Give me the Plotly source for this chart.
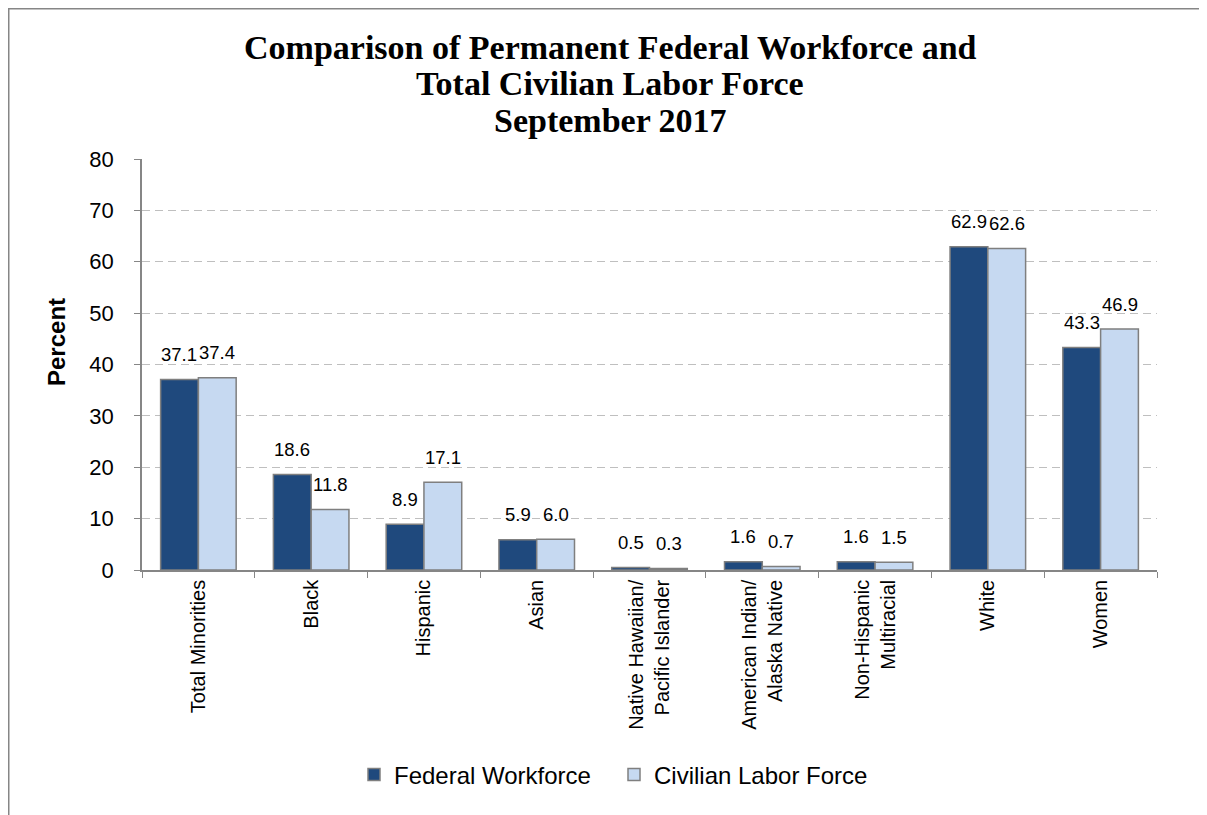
import plotly.graph_objects as go

categories = ["Total Minorities", "Black", "Hispanic", "Asian",
              "Native Hawaiian/<br>Pacific Islander", "American Indian/<br>Alaska Native",
              "Non-Hispanic<br>Multiracial", "White", "Women"]
federal = [37.1, 18.6, 8.9, 5.9, 0.5, 1.6, 1.6, 62.9, 43.3]
civilian = [37.4, 11.8, 17.1, 6.0, 0.3, 0.7, 1.5, 62.6, 46.9]
y_ticks = [0, 10, 20, 30, 40, 50, 60, 70, 80]
title_lines = ["Comparison of Permanent Federal Workforce and",
               "Total Civilian Labor Force",
               "September 2017"]

# page has an 8px body margin; figure is drawn in page coordinates minus this offset
OFF = 8
W = 1207 - OFF
H = 815 - OFF
L = 142 - OFF
T = 159 - OFF
R = W - (1157 - OFF)
B = H - (570 - OFF)
pw, ph = W - L - R, H - T - B

def px_x(p):
    return (p - OFF - L) / pw

def px_y(p):
    return (570 - p) / ph

FONT = "Liberation Sans"
GRAY = "#868686"

fig = go.Figure()
fig.add_trace(go.Bar(name="Federal Workforce", x=categories, y=federal,
                     marker=dict(color="#1F497D", line=dict(color="#7F7F7F", width=1.5))))
fig.add_trace(go.Bar(name="Civilian Labor Force", x=categories, y=civilian,
                     marker=dict(color="#C6D9F1", line=dict(color="#7F7F7F", width=1.5))))

annotations = []
for c, v in zip(categories, federal):
    annotations.append(dict(x=c, y=v, xref="x", yref="y", text=f"{v:.1f}", showarrow=False,
                            xshift=-19, yshift=25, yanchor="middle",
                            font=dict(family=FONT, size=18.5, color="#000")))
for c, v in zip(categories, civilian):
    annotations.append(dict(x=c, y=v, xref="x", yref="y", text=f"{v:.1f}", showarrow=False,
                            xshift=19, yshift=25, yanchor="middle",
                            font=dict(family=FONT, size=18.5, color="#000")))

for line, ypx in zip(title_lines, [47, 84, 121]):
    annotations.append(dict(x=px_x(610), y=px_y(ypx), xref="paper", yref="paper",
                            text=f"<b>{line}</b>", showarrow=False,
                            xanchor="center", yanchor="middle",
                            font=dict(family="Liberation Serif", size=34, color="#000")))

# y-axis title
annotations.append(dict(x=px_x(56), y=px_y(342), xref="paper", yref="paper",
                        text="<b>Percent</b>", showarrow=False, textangle=-90,
                        xanchor="center", yanchor="middle",
                        font=dict(family=FONT, size=24, color="#000")))

shapes = [
    dict(type="line", xref="paper", yref="paper", x0=px_x(OFF + 0.75), x1=px_x(OFF + 0.75),
         y0=px_y(OFF), y1=px_y(815 + 20), line=dict(color=GRAY, width=1.5)),
    dict(type="line", xref="paper", yref="paper", x0=px_x(OFF), x1=px_x(1207 + 20),
         y0=px_y(OFF + 0.75), y1=px_y(OFF + 0.75), line=dict(color=GRAY, width=1.5)),
]

fig.update_layout(
    width=W, height=H,
    margin=dict(l=L, r=R, t=T, b=B, autoexpand=False),
    paper_bgcolor="white", plot_bgcolor="white",
    barmode="group", bargap=0.33, bargroupgap=0,
    annotations=annotations, shapes=shapes,
    font=dict(family=FONT, size=20, color="#000"),
    legend=dict(orientation="h", x=px_x(614), xanchor="center", y=px_y(775), yanchor="middle",
                font=dict(family=FONT, size=24, color="#000"), itemwidth=30,
                entrywidth=215,
                traceorder="normal", bgcolor="rgba(0,0,0,0)"),
    showlegend=True,
)

fig.update_yaxes(range=[0, 80], tickvals=y_ticks, ticks="outside", ticklen=6, tickcolor=GRAY,
                 showline=True, linecolor=GRAY, linewidth=1.5,
                 showgrid=True, gridcolor="#BFBFBF", gridwidth=1, griddash="8px,5px",
                 zeroline=False, tickfont=dict(family=FONT, size=22),
                 ticklabelstandoff=16)
fig.update_xaxes(tickangle=-90, ticks="outside", ticklen=6, tickcolor=GRAY, tickson="boundaries",
                 showline=True, linecolor=GRAY, linewidth=1.5, showgrid=False,
                 tickfont=dict(family=FONT, size=20))

fig.write_html("out.html")
